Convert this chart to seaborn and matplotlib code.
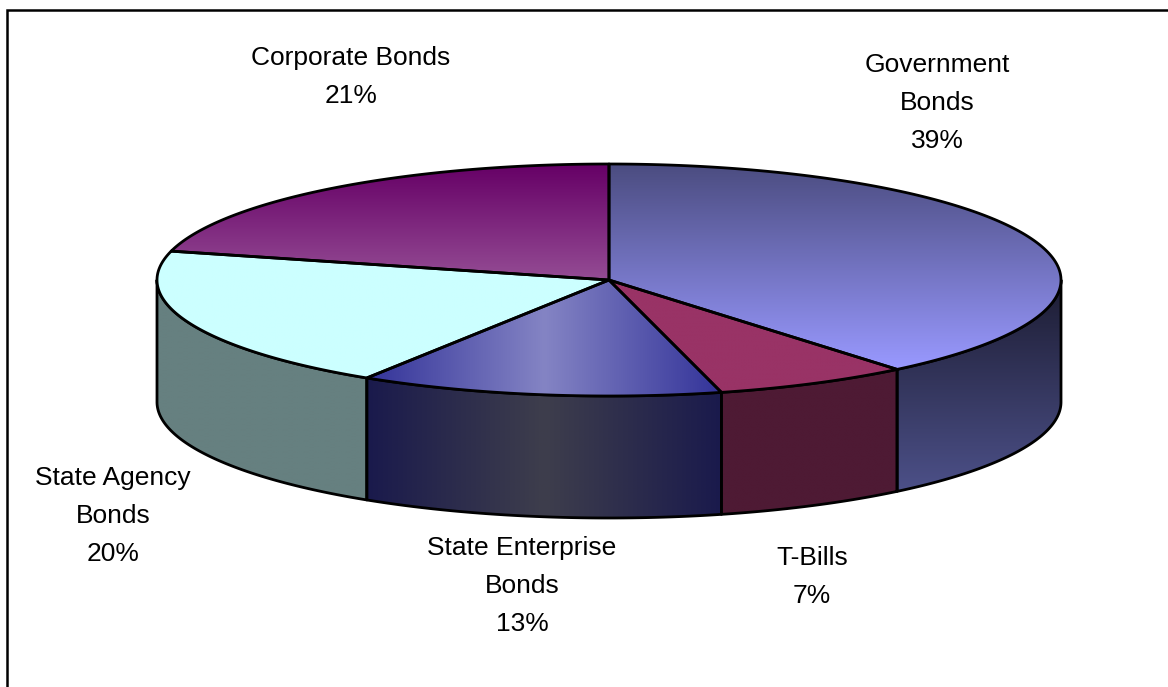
import numpy as np
import matplotlib
matplotlib.use("Agg")
import matplotlib.pyplot as plt
from matplotlib.patches import Polygon
import seaborn as sns

# Portfolio composition
categories = ["Government\nBonds", "T-Bills", "State Enterprise\nBonds",
              "State Agency\nBonds", "Corporate Bonds"]
shares = [39, 7, 13, 20, 21]

# Face colours: (top start, top end, side start, side end)
top_colors = [("#4b4c80", "#9999ff"), ("#993366", "#993366"),
              ("#333399", "#8484c4"), ("#ccffff", "#ccffff"),
              ("#660066", "#944c94")]
side_colors = [("#1c1c32", "#4c5088"), ("#4e1a34", "#4e1a34"),
               ("#1a1a4c", "#3e3e4c"), ("#668080", "#668080"),
               ("#330033", "#4a264a")]
# gradient style per slice: "v" vertical, "h" symmetric horizontal
top_style = ["v", "v", "h", "v", "v"]
side_style = ["v", "v", "h", "v", "v"]

# label anchor (x, first-line y) in pixel space
label_pos = [(937, 65), (812, 558), (522, 548), (113, 478), (351, 58)]

W, H = 1168, 687
cx, cy, rx, ry, depth = 609, 280, 452, 116, 122
LINE_STEP = 38

sns.set_theme(style="white")
plt.rcParams["font.family"] = ["Liberation Sans", "DejaVu Sans"]

fig = plt.figure(figsize=(W / 100, H / 100), dpi=100)
ax = fig.add_axes([0, 0, 1, 1])
ax.set_xlim(0, W)
ax.set_ylim(H, 0)
ax.axis("off")


def ell(t_deg, dz=0.0):
    t = np.radians(t_deg)
    return cx + rx * np.cos(t), cy - ry * np.sin(t) + dz


def fill_gradient(verts, c0, c1, style, z):
    verts = np.asarray(verts)
    poly = Polygon(verts, closed=True, facecolor="none", edgecolor="black",
                   linewidth=2.0, joinstyle="round", zorder=z + 0.5)
    ax.add_patch(poly)
    x0, y0 = verts.min(axis=0)
    x1, y1 = verts.max(axis=0)
    cmap = sns.blend_palette([c0, c1], n_colors=256, as_cmap=True)
    nx, ny = 200, 200
    if style == "v":
        grad = np.tile(np.linspace(0, 1, ny)[:, None], (1, nx))
    else:
        xs = np.linspace(-1, 1, nx)
        grad = np.tile(1 - np.abs(xs)[None, :], (ny, 1))
    im = ax.imshow(grad, cmap=cmap, vmin=0, vmax=1, extent=(x0, x1, y1, y0),
                   origin="upper", interpolation="bilinear", zorder=z,
                   aspect="auto")
    clip = Polygon(verts, closed=True, transform=ax.transData)
    im.set_clip_path(clip)


total = float(sum(shares))
start = 90.0
for i, s in enumerate(shares):
    sweep = 360.0 * s / total
    t0, t1 = start, start - sweep
    start = t1

    # visible front wall: the part of the arc with angles in [-180, 0]
    a, b = min(t0, 0.0), max(t1, -180.0)
    if a > b:
        ts = np.linspace(a, b, 120)
        top_arc = [ell(t) for t in ts]
        bot_arc = [ell(t, depth) for t in ts[::-1]]
        fill_gradient(top_arc + bot_arc, side_colors[i][0], side_colors[i][1],
                      side_style[i], 2)

    ts = np.linspace(t0, t1, 200)
    verts = [(cx, cy)] + [ell(t) for t in ts]
    fill_gradient(verts, top_colors[i][0], top_colors[i][1], top_style[i], 4)

    lines = categories[i].split("\n") + [f"{s}%"]
    lx, ly = label_pos[i]
    for k, line in enumerate(lines):
        ax.text(lx, ly + k * LINE_STEP, line, ha="center", va="center",
                fontsize=19, color="black", zorder=6)

# chart-area frame
ax.plot([7, 7, W + 5], [H + 5, 9.5, 9.5], color="black", linewidth=1.8,
        solid_joinstyle="miter", zorder=7, clip_on=False)

ax.set_xlim(0, W)
ax.set_ylim(H, 0)
fig.savefig("out.png", dpi=100)
